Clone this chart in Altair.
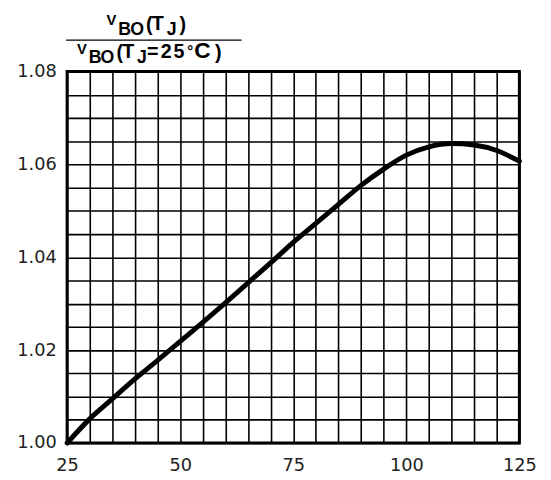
import altair as alt
import pandas as pd

# Junction temperature (°C) and normalized breakover voltage
tj = [25, 30, 35, 40, 45, 50, 55, 60, 65, 70, 75, 80, 85, 90, 95, 100, 105, 110, 115, 120, 125]
vbo_ratio = [1.000, 1.0052, 1.0095, 1.0138, 1.0178, 1.0219, 1.026, 1.0302, 1.0345, 1.0388, 1.0432,
             1.0473, 1.0514, 1.0555, 1.059, 1.062, 1.0638, 1.0645, 1.0642, 1.063, 1.0607]

x_grid = list(range(25, 130, 5))
y_grid = [round(1.0 + 0.005 * i, 3) for i in range(17)]
x_labels = [25, 50, 75, 100, 125]
y_labels = [1.00, 1.02, 1.04, 1.06, 1.08]

df = pd.DataFrame({"tj": tj, "ratio": vbo_ratio})

LABEL_FONT = "DejaVu Sans"
TITLE_FONT = "Liberation Sans"

x_enc = alt.X(
    "tj:Q",
    scale=alt.Scale(domain=[25, 125], nice=False, zero=False),
    axis=alt.Axis(
        values=x_grid,
        labelExpr="datum.value % 25 == 0 ? datum.label : ''",
        title=None, domain=False, ticks=False,
        grid=True, gridColor="black", gridWidth=1.6, gridOpacity=1,
        labelFont=LABEL_FONT, labelFontSize=18, labelColor="#222",
        labelPadding=14, labelFlush=False, labelOverlap=False,
    ),
)
y_enc = alt.Y(
    "ratio:Q",
    scale=alt.Scale(domain=[1.0, 1.08], nice=False, zero=False),
    axis=alt.Axis(
        values=y_grid,
        format=".2f",
        labelExpr="round(datum.value * 1000) % 20 == 0 ? datum.label : ''",
        title=None, domain=False, ticks=False,
        grid=True, gridColor="black", gridWidth=1.6, gridOpacity=1,
        labelFont=LABEL_FONT, labelFontSize=18, labelColor="#222",
        labelPadding=11, labelFlush=False, labelOverlap=False,
    ),
)

curve = alt.Chart(df).mark_line(
    color="black", strokeWidth=5, interpolate="monotone", strokeCap="round"
).encode(x=x_enc, y=y_enc)

ORIGIN_X, ORIGIN_Y = 68, 69


def piece(txt, sx, sy, size):
    return alt.Chart(alt.Data(values=[{}])).mark_text(
        text=txt, font=TITLE_FONT, fontWeight="bold", fontSize=size,
        align="left", baseline="alphabetic", color="black",
    ).encode(x=alt.value(sx - ORIGIN_X), y=alt.value(sy - ORIGIN_Y))


MAIN, SUB, SMALL = 20, 18, 15
title_layers = [
    # numerator: V_BO(T_J)
    piece("V", 108, 22, SMALL),
    piece("B", 120, 32, SUB),
    piece("O", 132, 32, SUB),
    piece("(", 148, 28, MAIN),
    piece("T", 154, 27, MAIN),
    piece("J", 169, 32, SUB),
    piece(")", 182, 28, MAIN),
    # denominator: V_BO(T_J=25℃)
    piece("V", 78, 51, SMALL),
    piece("B", 90, 60, SUB),
    piece("O", 102, 60, SUB),
    piece("(", 118, 56, MAIN),
    piece("T", 124, 55, MAIN),
    piece("J", 139, 60, SUB),
    piece("=", 149, 55, MAIN),
    piece("2", 163, 55, MAIN),
    piece("5", 176, 55, MAIN),
    piece("°", 190, 53, SMALL),
    piece("C", 197, 55, 23),
    piece(")", 218, 56, MAIN),
]

bar = alt.Chart(alt.Data(values=[{}])).mark_rule(color="black", strokeWidth=1.2).encode(
    x=alt.value(67 - ORIGIN_X), x2=alt.value(245 - ORIGIN_X), y=alt.value(37 - ORIGIN_Y)
)

chart = alt.layer(curve, bar, *title_layers).properties(
    width=459,
    height=377,
    autosize=alt.AutoSizeParams(type="none"),
    padding={"left": 60, "top": 61, "right": 24, "bottom": 34},
    background="white",
).configure_view(stroke="black", strokeWidth=3)

chart.save("out.html", embed_options={"renderer": "svg", "actions": False})
